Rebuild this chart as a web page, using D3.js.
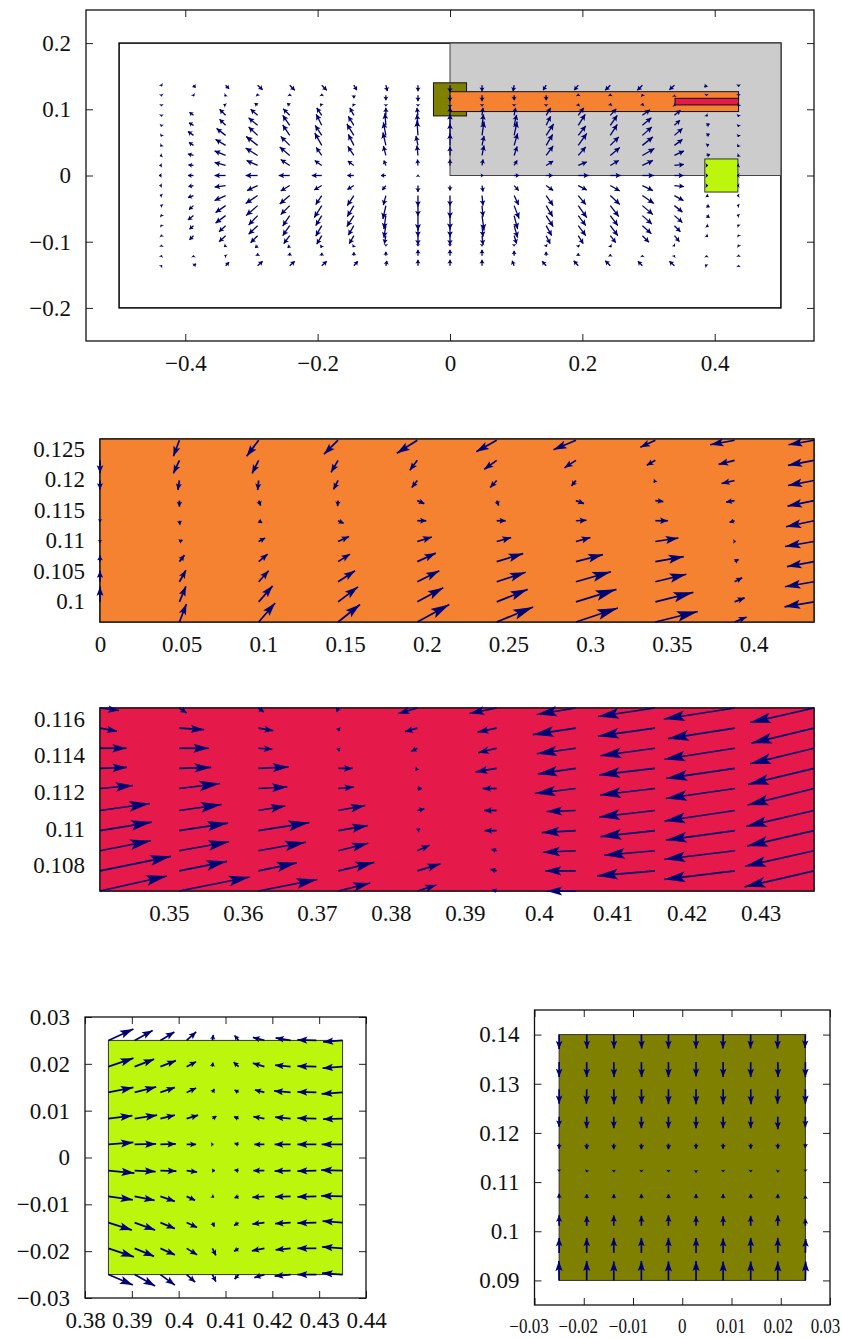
<!DOCTYPE html>
<html>
<head>
<meta charset="utf-8">
<title>Quiver plots</title>
<script src="https://cdn.jsdelivr.net/npm/d3@7"></script>
<style>
  html, body { margin: 0; background: #fff; }
  svg { display: block; }
  .tick text { font-family: "Liberation Serif", serif; font-size: 23px; fill: #111; }
  .tick line { stroke: #222; }
</style>
</head>
<body>
<svg id="chart" width="842" height="1338"></svg>
<script>
// sample points of each field
const wholeX = [-0.436,-0.3876,-0.3391,-0.2907,-0.2422,-0.1938,-0.1453,-0.0969,-0.0484,0,0.0484,0.0969,0.1453,0.1938,0.2422,0.2907,0.3391,0.3876,0.436];
const wholeY = [0.1364,0.1212,0.1061,0.0909,0.0758,0.0606,0.0455,0.0303,0.0152,0,-0.0152,-0.0303,-0.0455,-0.0606,-0.0758,-0.0909,-0.1061,-0.1212,-0.1364];
const orangeX = [0,0.0486,0.0971,0.1457,0.1942,0.2428,0.2913,0.3399,0.3884,0.437];
const orangeY = [0.1264,0.1231,0.1198,0.1165,0.1132,0.1098,0.1065,0.1032,0.0999,0.0966];
const redX = [0.3407,0.3514,0.3621,0.3729,0.3836,0.3943,0.405,0.4157,0.4265,0.4372];
const redY = [0.1166,0.1155,0.1144,0.1133,0.1122,0.111,0.1099,0.1088,0.1077,0.1066];
const limeX = [0.385,0.3906,0.3961,0.4017,0.4072,0.4128,0.4183,0.4239,0.4294,0.435];
const limeY = [0.025,0.0194,0.0139,0.0083,0.0028,-0.0028,-0.0083,-0.0139,-0.0194,-0.025];
const oliveX = [-0.025,-0.0194,-0.0139,-0.0083,-0.0028,0.0028,0.0083,0.0139,0.0194,0.025];
const oliveY = [0.14,0.1344,0.1289,0.1233,0.1178,0.1122,0.1067,0.1011,0.0956,0.09];

// field values, one list per column, [u, v] from the top row down
const wholeField = [
  [[0.5,-1],[0.2,-1],[0,-1],[0,-1.2],[-0.3,-1.2],[-0.5,-1],[-1,-1],[-1.5,-0.5],[-2,0],[-2.5,0],[-2,0],[-1.5,0.5],[-1,0.5],[-0.5,1],[-0.5,1],[-0.2,1],[0,1],[0.2,0.6],[0.5,0.6]],
  [[2,-2.5],[0.5,-1],[0,0],[-4,3],[-4.5,2.5],[-5.5,4],[-4.5,3],[-5.5,1.5],[-5,0.5],[-5.5,0],[-5,-1],[-5.5,-2],[-4.5,-4],[-5.5,-4.5],[-4,-3.5],[-4,-4],[0,0],[0,0.5],[2.5,2]],
  [[3.5,-3.5],[-1,-1],[-2,1],[-6,6],[-6,6],[-9,7],[-10,6],[-11,4.5],[-11,3],[-11,0],[-11,-1.5],[-11,-5],[-10,-7],[-10,-7.5],[-6.5,-6],[-6.5,-6],[-1.5,-1],[-1,0.5],[3.5,3.5]],
  [[5,-4.5],[-0.5,1.5],[-3,2],[-7,6],[-9,7.5],[-9,8.5],[-11.5,9],[-12,7.5],[-11,5],[-12,0],[-10.5,-5],[-12,-8],[-11.5,-10],[-9,-9.5],[-9,-8.5],[-7,-7],[-2.5,-2],[0,2.5],[5,4.5]],
  [[5,-5],[0,1.5],[-2.5,2],[-6.5,6.5],[-7,10],[-7,10.5],[-9,9],[-10,8.5],[-9,6],[-11,0],[-9,-5.5],[-10,-8.5],[-9,-9],[-7,-10.5],[-7,-10],[-6,-8],[-2,-2],[0,3],[5,4.5]],
  [[5,-5],[0,1.5],[-1.5,1.5],[-5,7.5],[-5.5,11],[-6.5,10],[-7,12.5],[-5.5,8],[-7,5],[-10,0],[-7.5,-4.5],[-6,-9],[-7.5,-12],[-6,-10],[-6,-10.5],[-5,-8.5],[-1,-2],[0,3],[5,4.5]],
  [[3,-5],[0,-3],[-1,1.5],[-4,7.5],[-5.5,9],[-7,11.5],[-5.5,11],[-6,9],[-6,4.5],[-6.5,0],[-6.5,-4],[-6.5,-10],[-6.5,-11],[-7,-11],[-5.5,-9.5],[-4.5,-8],[-1,-1.5],[0,3.5],[4,4.5]],
  [[1.5,-6],[0,-5],[0,-1],[0,7.5],[-1,12],[-2.5,13],[-3,13],[-2.5,9.5],[-2,5],[-5,0],[-3.5,-4.5],[-2.5,-9.5],[-3,-13.5],[-2,-13.5],[-2,-12],[-1.5,-8],[0,-0.5],[0,4],[1,5]],
  [[0,-6],[0,-6],[0,-1],[-1,7.5],[-1,11],[-1,15],[-2,9.5],[-1,10],[-0.5,6],[0,0.7],[0,-6.5],[0,-11],[0,-10.5],[0,-15],[0,-11],[0,-9],[0,-0.5],[0,6],[0,6]],
  [[0,-7],[0,-6],[0,-2],[0,8],[0,11],[0,12],[0,12],[0,9],[0,6],[0,0],[0,-5],[0,-10.5],[0,-12.5],[0,-14],[0,-11],[0,-9],[0,-0.5],[0,6],[0,6]],
  [[0,-6],[0,-6],[0,-1],[1,7.5],[1.5,11],[2,14],[2,9.5],[2,10],[1,6],[1,0],[1,-6],[1,-10],[1,-11],[2,-15],[1,-11],[1,-9],[0,-0.5],[0,6],[0,6]],
  [[-1,-6],[0,-5],[0,-1],[1.5,7.5],[2.5,10.5],[3,14],[3.5,12],[3,9],[3,5],[5,0],[4.5,-5],[4.5,-9.5],[5,-13],[3.5,-13.5],[3.5,-12],[2.5,-8],[0,-0.5],[0,5],[-2,5]],
  [[-3,-5],[0,-5],[0,-1],[4.5,7.5],[4.5,9],[7.5,11.5],[6.5,11],[7,9.5],[7,4.5],[6.5,0],[7,-5],[7,-10],[6.5,-11],[7,-11],[5.5,-10],[4,-8],[0.5,-1],[0,4],[-4,4.5]],
  [[-4,-5],[0,1.5],[0.5,1.5],[5.5,7.5],[7,11],[7.5,9.5],[8.5,12],[7.5,8.5],[8.5,3.5],[10.5,0],[8.5,-4.5],[7.5,-9],[8.5,-12],[7.5,-10],[7.5,-10],[5,-8],[0.5,-1.5],[0,2.5],[-4.5,5]],
  [[-5,-5],[0,1.5],[0.5,2],[6,6.5],[7,10],[7,11],[8.5,8.5],[9.5,8],[8.5,5],[10.5,0],[9.5,-5.5],[9.5,-9],[8.5,-11],[7.5,-10],[7.5,-10],[5.5,-7],[1,-1.5],[0,1.5],[-5,5]],
  [[-5,-5],[-0.5,1],[0.5,2],[7.5,5.5],[9,7.5],[9.5,8.5],[10.5,8.5],[12,7],[10.5,5],[11.5,0],[10.5,-5],[11.5,-8],[10.5,-9],[9.5,-8.5],[9,-8],[6.5,-6.5],[0,0],[0,0.7],[-4.5,4.5]],
  [[-5,-4.5],[0,0.5],[1,-0.5],[6,5],[5.5,5],[8,7],[8,6],[9.5,4.5],[9.5,1],[9,0],[9.5,-1],[9,-5],[8,-6.5],[8,-7],[6,-6],[5,-6],[0.5,-0.5],[0.3,0.5],[-5,4.5]],
  [[-2,-2],[0,-0.7],[0,0],[1,-1],[3,1.5],[3,1.5],[2.5,1],[3.5,1],[1.5,0],[1.5,0],[1.5,0],[2,-1],[3,-1.5],[3,-2],[2,-1],[1.5,-1],[0,0],[0,0.5],[-1.5,1]],
  [[0,-1.5],[0,-1],[-0.5,-1],[-0.5,-1.5],[-0.5,-1.5],[-0.5,-1.5],[-1,-1.5],[-1,-1],[-1.5,-0.5],[-1.5,0],[-1.5,0],[-1.5,0],[-1.5,0.3],[-1.5,0.5],[-1,1],[-0.5,1],[-0.5,1],[0,1],[0,0.7]]
];
const orangeField = [
  [[0,0],[0,-13],[0,-9],[0,0],[0,-1],[0,-1],[0,6],[0,11],[0,15],[0,0]],
  [[-6,-16],[-6,-13],[-1.5,-9.5],[0,-6],[0.5,-4],[3,1.5],[5,6.5],[6.5,11.5],[6.5,15.5],[7,18]],
  [[-12,-16],[-6.5,-13],[-1,-9.5],[2,-5],[3.5,-2],[6.5,3.5],[9,7.5],[10,11],[14,16],[16.5,19]],
  [[-14,-14],[-7,-12],[-4.5,-9],[-0.5,-5.5],[5.5,-2.5],[11,5],[12,7.5],[17,11],[20,15],[22,17.5]],
  [[-20.5,-13],[-7.5,-10],[-5.5,-7],[7,-3],[9,0],[14.5,4.5],[18.5,8.5],[22,11],[26,14],[32,17.5]],
  [[-20.5,-11.5],[-12.5,-9],[-6.5,-7],[2,-5],[9,0],[14.5,4],[26.5,8],[29,9.5],[31,12.5],[36.5,15]],
  [[-22.5,-9.5],[-11.5,-7.5],[-4.5,-5.5],[8,-3],[10.5,0.5],[14.5,4],[27,7],[35,10],[40.5,12.5],[42,14]],
  [[-15,-7],[-8.5,-5],[-1.5,-2],[8,-1],[12.5,0],[23,3.5],[28.5,5],[31,7.5],[38,9.5],[42.5,10.5]],
  [[-24.5,-4.5],[-16,-4],[-13,-3],[-8.5,-1.5],[-5,-1.5],[1,0],[4,2],[7.5,4],[10,4],[12,5]],
  [[-25.5,-4.5],[-26,-5],[-26,-5],[-26.5,-5.5],[-28,-6],[-29,-5],[-27,-5],[-29,-5],[-29.5,-5],[0,0]]
];
const redField = [
  [[19,-2.5],[17,-3],[26.5,0],[27,1],[33,3],[50,7],[52,8.5],[51,10],[71,14.5],[67,15]],
  [[7.5,-5],[25,-1.5],[30,0],[32,1],[41,5],[42.5,6],[49,7.5],[50,9],[48,9.5],[70.5,14]],
  [[5.5,-4],[15,-2.5],[14,-1],[30.5,1.5],[29,1.5],[27,4.5],[51,8],[47.5,8.5],[38.5,8],[59,11.5]],
  [[-1.5,-4],[1,-3],[1,-3],[14.5,0],[15.5,1.5],[27,5],[29.5,5],[30,7.5],[36,8.5],[32,8]],
  [[-19,-5.5],[-12.5,-3.5],[-6,-3],[-2,-2],[4.5,0],[7,1.5],[2.5,2],[12,5.5],[23,7],[19,6]],
  [[-27,-5.5],[-19,-4],[-18.5,-4.5],[-21,-3.5],[-14,0],[-12.5,0],[-12,0],[-5,1.5],[-6,1.5],[-4,1.5]],
  [[-39,-6.5],[-43,-6.5],[-39,-5.5],[-38,-5.5],[-41,-5],[-29,-1],[-34,-2],[-33,-1.5],[-30.5,0],[-29,0]],
  [[-57,-8.5],[-57,-8],[-54.5,-7.5],[-56,-6.5],[-55,-6.5],[-56,-6.5],[-54.5,-6],[-51,-4.5],[-58,-5],[0,0]],
  [[-71,-11],[-67,-10.5],[-70.5,-11],[-68.5,-10],[-69,-10],[-70.5,-10.5],[-69,-9.5],[-70.5,-8.5],[-70.5,-8.5],[0,0]],
  [[-64,-14.5],[-63,-15],[-64,-15.5],[-66,-16],[-66.5,-16.5],[-68,-16],[-67,-15.5],[-69,-15.5],[-69.5,-16],[0,0]]
];
const limeField = [
  [[25,11.5],[25,8.5],[25,5],[24,3],[25,2],[26,-2.5],[24.5,-3.5],[23.5,-7.5],[25.5,-8.5],[24.5,-10.5]],
  [[18,10],[19.5,7.5],[21.5,5.5],[22.5,3.5],[21.5,0.5],[21,-1],[20,-4],[20.5,-7.5],[19.5,-8],[20.5,-11.5]],
  [[14,8.5],[15.5,6],[14.5,5],[14.5,3.5],[15.5,0.5],[16,-0.5],[14.5,-5],[14.5,-6],[14.5,-6.5],[14.5,-10.5]],
  [[9.5,8.5],[9.5,5],[9.5,4.5],[11.5,3.5],[9.5,0],[10.5,-1.5],[8.5,-4],[10.5,-5],[10.5,-6.5],[8.5,-7.5]],
  [[1,5.5],[0.5,4],[2,3.5],[4,2.5],[1,0],[2.5,0],[1.5,-1],[2,-4],[3.5,-7],[3.5,-7]],
  [[-4,5],[-5,4.5],[-4,2.5],[-4.5,2],[-4,1],[-4,0.5],[-4,-1.5],[-4.5,-3],[-4.5,-3],[-4,-4.5]],
  [[-11.5,3],[-11.5,3.5],[-9.5,2.5],[-11,2],[-10,0],[-11,0],[-12,-1],[-12,-1.5],[-12.5,-2.5],[-10,-3]],
  [[-15,2.5],[-15.5,1.5],[-16.5,1.5],[-15.5,1.5],[-16,0],[-16,-0.5],[-15.5,-0.5],[-15.5,-1],[-15,-1.5],[-16,-1.5]],
  [[-19,0.5],[-19,0.5],[-19,0.5],[-19,0.5],[-19,0],[-19,-0.5],[-19,-0.5],[-19,-0.5],[-19,0],[-19,0]],
  [[-19.5,-1.5],[-20,-1.5],[-21,-1.5],[-19.5,-0.5],[-21,0],[-21.5,0.5],[-21.5,0.5],[-20,1.5],[-20.5,1.5],[-20.5,1.5]]
];
const oliveField = [
  [[0,-14.5],[0,-15],[0,-14.5],[0,-10],[0,-5],[0,-0.3],[0,4.5],[0,10.5],[0,15],[-0.3,19.5]],
  [[0.3,-14],[0,-15],[-0.3,-14.5],[0,-11.5],[0,-5.5],[-0.3,-0.8],[0,4],[0,9.5],[0,15],[0,19.5]],
  [[0.3,-14],[0.3,-15],[0.3,-15],[0,-11.5],[0,-5.5],[0,-0.8],[0,4],[0,10.5],[0,15],[0,19]],
  [[0.3,-14],[0.3,-15],[0.3,-14.5],[0,-11.5],[0,-5.5],[0,-0.8],[0,4],[0,10],[0,15],[0,19.5]],
  [[0,-14],[0,-15],[0,-15],[0,-11.5],[0,-5.5],[0,-0.8],[0,4],[0,10.5],[0,15],[0,19]],
  [[0,-14],[0,-14.5],[0,-15],[0,-11.5],[0,-5],[0,-1.2],[0,4],[0,9.5],[0,15],[0,19.5]],
  [[-0.2,-14],[0,-15],[0,-15],[0,-11.5],[0,-5],[0,-0.8],[0,4],[0,9.5],[0,14.5],[0,19]],
  [[-0.2,-14],[0,-15],[0.3,-15],[0,-11.5],[0,-5],[0,-0.8],[0,4],[0,10],[0,15],[0,19]],
  [[-0.3,-14],[0.3,-15],[-0.3,-14.5],[0,-12.5],[0,-5],[-0.3,-1],[0,4],[0,10.5],[0,15],[0,19]],
  [[-0.3,-13.5],[0,-15],[0,-14.5],[0,-10.5],[0,-4],[0,-0.3],[0,2.5],[0,7],[0.3,14],[0.3,19]]
];

// tick labels
const wholeTicksX = [-0.4,-0.2,0,0.2,0.4];
const wholeTicksY = [-0.2,-0.1,0,0.1,0.2];
const orangeTicksX = [0,0.05,0.1,0.15,0.2,0.25,0.3,0.35,0.4];
const orangeTicksY = [0.1,0.105,0.11,0.115,0.12,0.125];
const redTicksX = [0.35,0.36,0.37,0.38,0.39,0.4,0.41,0.42,0.43];
const redTicksY = [0.108,0.11,0.112,0.114,0.116];
const limeTicksX = [0.38,0.39,0.4,0.41,0.42,0.43,0.44];
const limeTicksY = [-0.03,-0.02,-0.01,0,0.01,0.02,0.03];
const oliveTicksX = [-0.03,-0.02,-0.01,0,0.01,0.02,0.03];
const oliveTicksY = [0.09,0.1,0.11,0.12,0.13,0.14];

// regions of the device, in data units
const wholeBoxes = [
  { x: [-0.5, 0.5], y: [-0.2, 0.2], fill: "#fff", stroke: "#000", sw: 1.5 },
  { x: [0, 0.5], y: [0, 0.2], fill: "#cccccc", stroke: "#444", sw: 1 },
  { x: [-0.025, 0.025], y: [0.09, 0.14], fill: "#808000", stroke: "#111", sw: 1 },
  { x: [0, 0.436], y: [0.0966, 0.1266], fill: "#f58231", stroke: "#111", sw: 1 },
  { x: [0.34, 0.436], y: [0.1066, 0.1166], fill: "#e6194b", stroke: "#111", sw: 1 },
  { x: [0.385, 0.435], y: [-0.025, 0.025], fill: "#bcf60c", stroke: "#333", sw: 1 }
];

const NAVY = "#000075";
const fmt = d => String(d).replace("-", "\u2212");
const svg = d3.select("#chart");

function drawPanel(p) {
  const x = d3.scaleLinear().domain(p.xDomain).range([p.left, p.right]);
  const y = d3.scaleLinear().domain(p.yDomain).range([p.bottom, p.top]);
  const g = svg.append("g");
  const tick = 7;

  // ticks on all four sides, labels on left and bottom only
  const bottomAxis = g.append("g").attr("transform", `translate(0,${p.bottom})`)
    .call(d3.axisBottom(x).tickValues(p.ticksX).tickFormat(fmt).tickSize(-tick).tickPadding(14));
  g.append("g").attr("transform", `translate(${p.left},0)`)
    .call(d3.axisLeft(y).tickValues(p.ticksY).tickFormat(fmt).tickSize(-tick).tickPadding(15));
  g.append("g").attr("transform", `translate(0,${p.top})`)
    .call(d3.axisTop(x).tickValues(p.ticksX).tickFormat("").tickSize(-tick));
  g.append("g").attr("transform", `translate(${p.right},0)`)
    .call(d3.axisRight(y).tickValues(p.ticksY).tickFormat("").tickSize(-tick));
  g.selectAll(".domain").remove();
  g.selectAll(".tick text").attr("font-family", null).attr("font-size", null);

  // the bottom-right plot has its x labels narrowed so they fit
  if (p.squeezeX) {
    bottomAxis.selectAll(".tick text")
      .style("font-size", "20px")
      .attr("transform", (d, i) => `translate(${p.labelShift[i]},0) scale(${p.squeezeX},1)`);
  }

  g.append("rect")
    .attr("x", p.left).attr("y", p.top)
    .attr("width", p.right - p.left).attr("height", p.bottom - p.top)
    .attr("fill", "none").attr("stroke", "#111").attr("stroke-width", 1.3);

  g.selectAll("rect.box")
    .data(p.boxes)
    .join("rect")
    .attr("class", "box")
    .attr("x", d => x(d.x[0]))
    .attr("y", d => y(d.y[1]))
    .attr("width", d => x(d.x[1]) - x(d.x[0]))
    .attr("height", d => y(d.y[0]) - y(d.y[1]))
    .attr("fill", d => d.fill)
    .attr("stroke", d => d.stroke)
    .attr("stroke-width", d => d.sw);

  // field values are read at plot scale, so turn them into data units first
  const kx = (p.xDomain[1] - p.xDomain[0]) / (p.right - p.left);
  const ky = (p.yDomain[1] - p.yDomain[0]) / (p.bottom - p.top);
  const arrows = p.field.flatMap((col, c) => col.map((uv, r) => ({
    x0: x(p.gridX[c]),
    y0: y(p.gridY[r]),
    x1: x(p.gridX[c] + uv[0] * kx),
    y1: y(p.gridY[r] + uv[1] * ky)
  }))).filter(d => d.x0 !== d.x1 || d.y0 !== d.y1);

  const layer = g.append("g");
  layer.selectAll("line")
    .data(arrows)
    .join("line")
    .attr("x1", d => d.x0).attr("y1", d => d.y0)
    .attr("x2", d => d.x1).attr("y2", d => d.y1)
    .attr("stroke", NAVY)
    .attr("stroke-width", p.lineW);

  layer.selectAll("path")
    .data(arrows)
    .join("path")
    .attr("fill", NAVY)
    .attr("d", d => {
      const dx = d.x1 - d.x0, dy = d.y1 - d.y0;
      const len = Math.hypot(dx, dy);
      const h = Math.min(21, 2 + p.headK * len);
      const w = 2 + 0.16 * h;
      const ux = dx / len, uy = dy / len;
      const pt = (a, b) => [d.x1 - ux * a - uy * b, d.y1 - uy * a + ux * b];
      return "M" + [pt(0, 0), pt(h, w), pt(h * 0.8, 0), pt(h, -w)].join("L") + "Z";
    });
}

drawPanel({
  left: 86, right: 814, top: 10, bottom: 341,
  xDomain: [-0.55, 0.55], yDomain: [-0.25, 0.25],
  ticksX: wholeTicksX, ticksY: wholeTicksY,
  gridX: wholeX, gridY: wholeY, field: wholeField,
  boxes: wholeBoxes, lineW: 1.3, headK: 0.3
});
drawPanel({
  left: 100, right: 814, top: 439, bottom: 622,
  xDomain: [0, 0.437], yDomain: [0.0966, 0.1266],
  ticksX: orangeTicksX, ticksY: orangeTicksY,
  gridX: orangeX, gridY: orangeY, field: orangeField,
  boxes: [{ x: [0, 0.437], y: [0.0966, 0.1266], fill: "#f58231", stroke: "#111", sw: 1.3 }],
  lineW: 1.7, headK: 0.46
});
drawPanel({
  left: 100, right: 814, top: 708, bottom: 891,
  xDomain: [0.3407, 0.4372], yDomain: [0.1066, 0.1166],
  ticksX: redTicksX, ticksY: redTicksY,
  gridX: redX, gridY: redY, field: redField,
  boxes: [{ x: [0.3407, 0.4372], y: [0.1066, 0.1166], fill: "#e6194b", stroke: "#111", sw: 1.3 }],
  lineW: 1.7, headK: 0.46
});
drawPanel({
  left: 85, right: 366, top: 1017, bottom: 1298,
  xDomain: [0.38, 0.44], yDomain: [-0.03, 0.03],
  ticksX: limeTicksX, ticksY: limeTicksY,
  gridX: limeX, gridY: limeY, field: limeField,
  boxes: [{ x: [0.385, 0.435], y: [-0.025, 0.025], fill: "#bcf60c", stroke: "#333", sw: 1 }],
  lineW: 1.7, headK: 0.42
});
drawPanel({
  left: 534.5, right: 830, top: 1010, bottom: 1305,
  xDomain: [-0.03, 0.03], yDomain: [0.085, 0.145],
  ticksX: oliveTicksX, ticksY: oliveTicksY,
  gridX: oliveX, gridY: oliveY, field: oliveField,
  boxes: [{ x: [-0.025, 0.025], y: [0.09, 0.14], fill: "#808000", stroke: "#333", sw: 1 }],
  lineW: 1.7, headK: 0.42, squeezeX: 0.85, labelShift: [-6, -6, -5, -0.5, -1, -3, -5]
});
</script>
</body>
</html>
